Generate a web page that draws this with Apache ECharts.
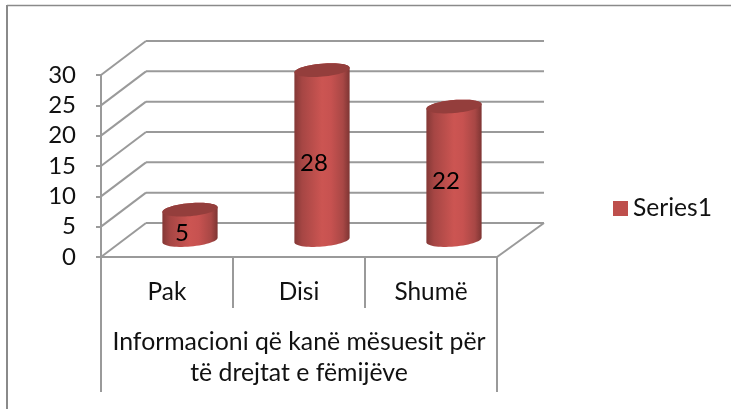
<!DOCTYPE html>
<html><head><meta charset="utf-8">
<style>html,body{margin:0;padding:0;background:#fff}#c{width:731px;height:409px}</style>
<script src="https://cdn.jsdelivr.net/npm/echarts@6/dist/echarts.min.js"></script>
</head><body><div id="c"></div>
<script>
const categories = ['Pak', 'Disi', 'Shumë'];
const values = [5, 28, 22];
const seriesName = 'Series1';
const yTicks = [0, 5, 10, 15, 20, 25, 30];
const groupLabel = 'Informacioni që kanë mësuesit për\ntë drejtat e fëmijëve';

const FONT = 'Lato, Carlito, "Open Sans", sans-serif';
const GRAY = '#9a9a9a';
const DX = 45, DY = -34;       // depth of the pseudo-3D box
const chart = echarts.init(document.getElementById('c'), null, {renderer: 'canvas'});

function line(x1, y1, x2, y2, w) {
  return {type: 'line', shape: {x1, y1, x2, y2}, style: {stroke: GRAY, lineWidth: w || 2}};
}
function arc(cx, cy, a, b, rot, from, to, n) {
  const pts = [];
  for (let i = 0; i <= n; i++) {
    const t = from + (to - from) * i / n;
    const x = a * Math.cos(t), y = b * Math.sin(t);
    pts.push([cx + x * Math.cos(rot) - y * Math.sin(rot), cy + x * Math.sin(rot) + y * Math.cos(rot)]);
  }
  return pts;
}

const option = {
  animation: false,
  textStyle: {fontFamily: FONT},
  graphic: [
    {type: 'line', silent: true, shape: {x1: 7, y1: 5.5, x2: 731, y2: 5.5}, style: {stroke: '#8a8a8a', lineWidth: 1.5}},
    {type: 'line', silent: true, shape: {x1: 7, y1: 5, x2: 7, y2: 409}, style: {stroke: '#8a8a8a', lineWidth: 2}}
  ],
  legend: {
    left: 608, top: 191, orient: 'vertical', itemWidth: 15, itemHeight: 15, itemGap: 6,
    icon: 'rect', selectedMode: false,
    textStyle: {fontFamily: FONT, fontSize: 24.6, color: '#111'},
    data: [seriesName]
  },
  grid: {left: 101, right: 234, top: 75, bottom: 152},
  xAxis: {
    type: 'category', data: categories,
    axisLine: {lineStyle: {color: GRAY, width: 2}},
    axisTick: {show: true, alignWithLabel: false, length: 51, lineStyle: {color: GRAY, width: 2}},
    axisLabel: {fontFamily: FONT, fontSize: 24.4, color: '#111', margin: 23},
    name: groupLabel, nameLocation: 'middle', nameGap: 70,
    nameTextStyle: {fontFamily: FONT, fontSize: 24.8, color: '#111', lineHeight: 31}
  },
  yAxis: {
    type: 'value', min: 0, max: 30, interval: 5,
    axisLine: {show: true, lineStyle: {color: GRAY, width: 2}},
    axisTick: {show: true, length: 5, lineStyle: {color: GRAY, width: 2}},
    splitLine: {show: false},
    axisLabel: {fontFamily: FONT, fontSize: 24, color: '#111', margin: 25,
      formatter: v => yTicks.includes(v) ? String(v) : ''}
  },
  series: [
    {
      // back wall, floor edge and the long outer separators of the two-level axis
      type: 'custom', silent: true, z: 1, clip: false,
      data: yTicks.map(v => [0, v]),
      renderItem(params, api) {
        const v = api.value(1);
        const p0 = api.coord([0, v]);
        const y = p0[1];
        const cs = params.coordSys;
        const x0 = cs.x, x1 = cs.x + cs.width;
        const kids = [
          line(x0, y, x0 + DX, y + DY),
          line(x0 + DX, y + DY, x1 + DX + 2, y + DY)
        ];
        if (v === 0) {
          kids.push(line(x1, y, x1 + DX + 2, y + DY));
          kids.push(line(x0, y, x0, y + 135));
          kids.push(line(x1, y, x1, y + 135));
        }
        return {type: 'group', children: kids};
      },
      encode: {x: 0, y: 1},
      legendHoverLink: false,
      tooltip: {show: false}
    },
    {
      name: seriesName,
      type: 'custom', z: 3, clip: false,
      itemStyle: {color: '#BE4F4C'},
      data: values.map((v, i) => [i, v]),
      encode: {x: 0, y: 1},
      renderItem(params, api) {
        const i = api.value(0), v = api.value(1);
        const base = api.coord([i, 0]);
        const top = api.coord([i, v]);
        const band = api.size([1, 0])[0];
        const a = band * 0.21, b = 6.5, rot = -5 * Math.PI / 180;
        const cx = base[0] + 23, depth = -17;   // bar sits halfway into the floor
        const yb = base[1] + depth, yt = top[1] + depth;
        const bot = arc(cx, yb, a, b, rot, 0, Math.PI, 30);
        const leftTop = arc(cx, yt, a, b, rot, Math.PI, 2 * Math.PI, 30);
        const cyl = bot.concat(leftTop);
        const grad = new echarts.graphic.LinearGradient(0, 0, 1, 0, [
          {offset: 0, color: '#843836'},
          {offset: 0.14, color: '#a64644'},
          {offset: 0.5, color: '#cc5552'},
          {offset: 0.66, color: '#c75250'},
          {offset: 0.88, color: '#a84745'},
          {offset: 1, color: '#7e3533'}
        ]);
        return {type: 'group', children: [
          {type: 'polygon', shape: {points: cyl}, style: {fill: grad}},
          {type: 'polygon', shape: {points: arc(cx, yt, a, b, rot, 0, 2 * Math.PI, 60)}, style: {fill: '#943e3c'}},
          {type: 'text', z2: 5, style: {
            text: String(v), x: cx - 8, y: (yb + yt) / 2 + 8,
            align: 'center', verticalAlign: 'middle',
            fontFamily: FONT, fontSize: 24, fill: '#000'
          }}
        ]};
      }
    }
  ]
};
chart.setOption(option);
</script></body></html>
